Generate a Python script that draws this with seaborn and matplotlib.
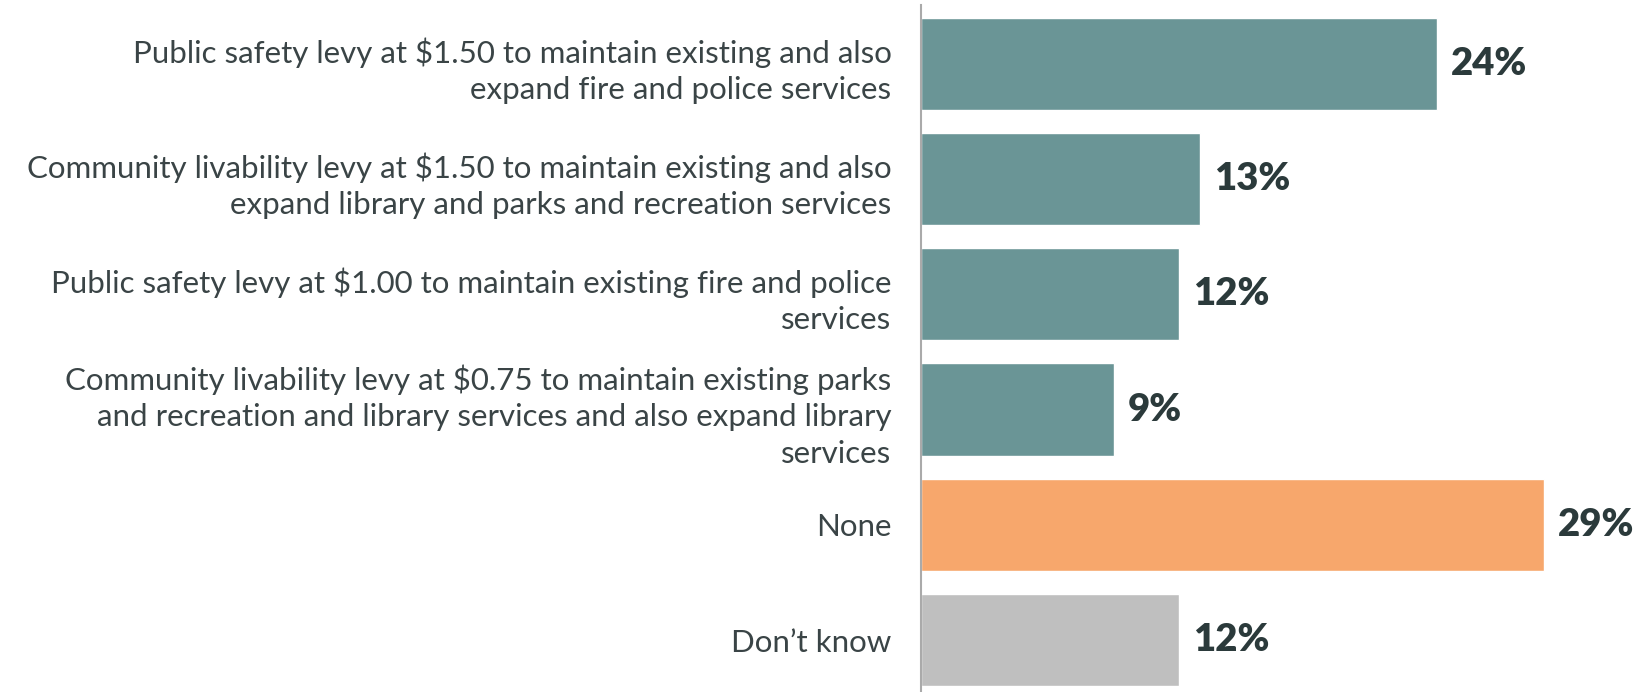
import matplotlib
matplotlib.use("Agg")
import matplotlib.pyplot as plt
import seaborn as sns
import pandas as pd

categories = [
    "Public safety levy at $1.50 to maintain existing and also\nexpand fire and police services",
    "Community livability levy at $1.50 to maintain existing and also\nexpand library and parks and recreation services",
    "Public safety levy at $1.00 to maintain existing fire and police\nservices",
    "Community livability levy at $0.75 to maintain existing parks\nand recreation and library services and also expand library\nservices",
    "None",
    "Don\u2019t know",
]
values = [24, 13, 12, 9, 29, 12]
colors = ["#6A9596", "#6A9596", "#6A9596", "#6A9596", "#F7A76C", "#BFBFBF"]

df = pd.DataFrame({"cat": categories, "val": values})

sns.set_theme(style="white")
plt.rcParams['font.family'] = ['Lato', 'DejaVu Sans']

fig = plt.figure(figsize=(16.41, 6.92), dpi=100)
ax = fig.add_axes([0.561, 0.0, 0.439, 1 - 5 / 692])

sns.barplot(data=df, x="val", y="cat", hue="cat", palette=colors, legend=False,
            width=0.8, saturation=1, ax=ax, orient="h")

ax.set_xlim(0, 33.5)
ax.set_ylim(5.45, -0.51)
ax.set_xlabel("")
ax.set_ylabel("")
ax.set_xticks([])
for s in ["top", "right", "bottom"]:
    ax.spines[s].set_visible(False)
ax.spines["left"].set_color("#AAAAAA")
ax.spines["left"].set_linewidth(1.5)

ax.tick_params(axis="y", length=0, pad=21)
for lbl in ax.get_yticklabels():
    lbl.set_fontsize(22.5)
    lbl.set_fontweight("normal")
    lbl.set_color("#3A4446")
    lbl.set_horizontalalignment("right")
    lbl.set_multialignment("right")
    lbl.set_linespacing(1.36)

for i, v in enumerate(values):
    ax.text(v + 0.65, i, f"{v}%", va="center", ha="left", fontsize=27.5,
            fontweight="heavy", color="#2B3A3B")

fig.savefig("out.png", dpi=100)
